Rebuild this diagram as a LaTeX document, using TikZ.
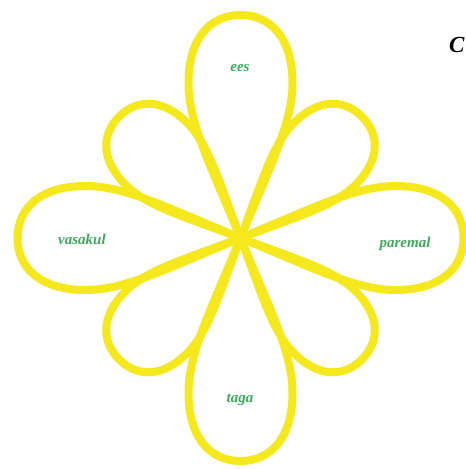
\documentclass[tikz,border=0pt]{standalone}
\usepackage{fontspec}
\newfontfamily\lblfont{Liberation Serif}
\definecolor{flowerY}{RGB}{245,233,30}
\definecolor{labelG}{RGB}{58,172,90}
\tikzset{
  x=1pt, y=1pt,
  petalline/.style={draw=flowerY, line width=8pt, line join=round},
  petalshape/.pic={
    \draw[petalline] (0,0) .. controls (-30,73) and (-52,115) .. (-52,155)
      .. controls (-52,200) and (-30,223) .. (0,223)
      .. controls (30,223) and (52,200) .. (52,155)
      .. controls (52,115) and (30,73) .. (0,0) -- cycle;
  },
  lbl/.style={text=labelG, font=\lblfont\fontsize{15}{17}\selectfont\bfseries\itshape, anchor=base, inner sep=0pt}
}
\begin{document}
\begin{tikzpicture}
\useasboundingbox (0,0) rectangle (466,469);
\coordinate (c) at (240.5,231);
% small diagonal petals
\pic[rotate=45, xscale=0.84, yscale=0.77] at (c) {petalshape};
\pic[rotate=-45, xscale=0.84, yscale=0.77] at (c) {petalshape};
\pic[rotate=135, xscale=0.84, yscale=0.77] at (c) {petalshape};
\pic[rotate=-135, xscale=0.84, yscale=0.77] at (c) {petalshape};
% big petals
\pic[rotate=0] at (c) {petalshape};
\pic[rotate=90] at (c) {petalshape};
\pic[rotate=-90] at (c) {petalshape};
\pic[rotate=180] at (c) {petalshape};
% labels
\node[lbl] (ees) at (240,397) {ees};
\node[lbl] (paremal) at (405,221) {paremal};
\node[lbl] (vasakul) at (82,224) {vasakul};
\node[lbl] (taga) at (240,66) {taga};
\node[anchor=base west, inner sep=0pt, font=\lblfont\fontsize{23}{27}\selectfont\bfseries\itshape] (cc) at (449,416) {C};
\end{tikzpicture}
\end{document}
